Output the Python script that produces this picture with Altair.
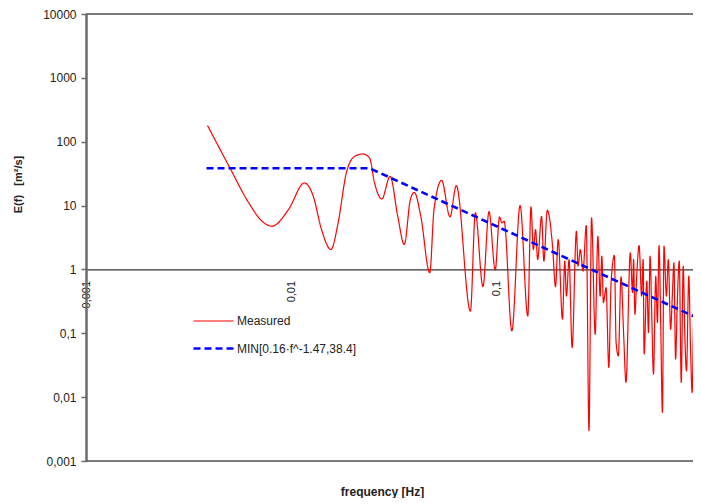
import altair as alt
import pandas as pd

series_names = ["Measured", "MIN[0.16·f^-1.47,38.4]"]

meas_f = [0.00390, 0.00497, 0.00620, 0.00719, 0.00804, 0.00967, 0.01156, 0.01277, 0.0140, 0.01556,
          0.01687, 0.01849, 0.0203, 0.02228, 0.0240, 0.02537, 0.02753, 0.0302, 0.0329, 0.0354,
          0.0379, 0.0396, 0.0426, 0.0471, 0.0494, 0.0538, 0.0591, 0.0634, 0.0743, 0.0785,
          0.0855, 0.0915, 0.0981, 0.1030, 0.1057, 0.1084, 0.1182, 0.1296, 0.1413, 0.1465,
          0.1504, 0.1542, 0.1578, 0.1649, 0.1692, 0.1758, 0.1865, 0.1928, 0.1987, 0.2084,
          0.2138, 0.2179, 0.2245, 0.2322, 0.2436, 0.2482, 0.2546, 0.2624, 0.2722, 0.2805,
          0.2887, 0.3007, 0.3099, 0.3179, 0.3240, 0.3298, 0.3398, 0.3503, 0.3594, 0.3728,
          0.3802, 0.3899, 0.4018, 0.4140, 0.4246, 0.4457, 0.4571, 0.4624, 0.4693, 0.4798,
          0.4921, 0.5058, 0.5148, 0.5205, 0.5363, 0.5465, 0.5563, 0.5669, 0.5778, 0.5929,
          0.6040, 0.6152, 0.6266, 0.6388, 0.6503, 0.6680, 0.6825, 0.7004, 0.7138, 0.7267,
          0.7405, 0.7546, 0.7716, 0.7888, 0.8067, 0.8212, 0.8369, 0.8585, 0.8750, 0.8915,
          0.9077, 0.9249]
meas_E = [180, 41.1, 11.0, 5.69, 4.75, 8.66, 22.6, 13.97, 4.22, 2.05,
          5.37, 32.4, 58.9, 64.3, 55.6, 22.6, 12.7, 28.7, 6.81, 2.46,
          12.4, 16.1, 6.81, 0.887, 8.66, 24.8, 6.65, 20.5, 0.223, 7.69,
          0.537, 8.06, 0.982, 6.65, 5.37, 5.69, 0.1086, 10.0, 0.186, 9.55,
          2.05, 4.22, 1.43, 6.81, 1.35, 8.45, 2.31, 0.537, 2.94, 0.166,
          1.35, 0.383, 1.43, 0.0598, 3.96, 1.13, 2.05, 0.94, 4.87, 0.00297,
          6.43, 0.0964, 3.31, 0.383, 1.61, 0.302, 0.518, 0.0291, 0.62, 1.66,
          0.0716, 0.0442, 0.764, 0.0908, 0.017, 1.82, 0.433, 1.43, 0.198, 0.887,
          2.37, 0.383, 1.43, 0.047, 0.656, 0.1026, 1.61, 0.198, 0.0229, 0.785,
          0.147, 2.37, 0.147, 0.00577, 2.31, 0.383, 1.43, 0.1155, 0.383, 1.27,
          0.0393, 0.302, 1.35, 0.017, 1.13, 0.0908, 0.0258, 0.785, 0.0634, 0.0118,
          0.166, 0.00453]

guide_f = [0.00386, 0.0240, 0.935]
guide_E = [38.4, 38.4, 0.177]

x_ticks = [0.001, 0.01, 0.1]
y_ticks = [0.001, 0.01, 0.1, 1, 10, 100, 1000, 10000]
y_domain = [0.001, 10000]

df_m = pd.DataFrame({"f": meas_f, "E": meas_E, "s": series_names[0]})
df_g = pd.DataFrame({"f": guide_f, "E": guide_E, "s": series_names[1]})

FONT = "Liberation Sans"
label_expr = "replace(toString(datum.value), '.', ',')"

x = alt.X(
    "f:Q",
    scale=alt.Scale(type="log", domain=[0.001, 0.9], nice=False),
    axis=alt.Axis(
        orient="bottom", offset=-191.6, values=x_ticks, labelExpr=label_expr,
        domainColor="#000000", domainWidth=1, ticks=False, grid=False,
        labelAngle=270, labelAlign="right", labelBaseline="middle", labelPadding=11,
        labelFont=FONT, labelFontSize=11, labelColor="#222222",
        labelFlush=False, labelOverlap=False,
        title="frequency [Hz]", titleFont=FONT, titleFontSize=12, titleFontWeight="bold",
        titleColor="#222222", titleX=296, titleY=222.5, titleBaseline="middle", titleAlign="center",
        titleAnchor="start",
    ),
)
y = alt.Y(
    "E:Q",
    scale=alt.Scale(type="log", domain=y_domain, nice=False),
    axis=alt.Axis(
        values=y_ticks, labelExpr=label_expr, grid=False,
        domainColor="#6b6b6b", domainWidth=2.5, tickColor="#6b6b6b", tickSize=5, tickWidth=1.5,
        labelPadding=5, labelFont=FONT, labelFontSize=12, labelColor="#222222",
        labelFlush=False, labelOverlap=False,
        title="E(f)\u00a0\u00a0\u00a0[m²/s]", titleFont=FONT, titleFontSize=11,
        titleFontWeight="bold", titleColor="#222222", titleAngle=270,
        titleX=-68, titleY=170, titleBaseline="middle", titleAlign="center", titleAnchor="start",
    ),
)

leg = alt.Legend(
    orient="none", legendX=106, legendY=286, title=None, symbolType="stroke",
    symbolSize=1600, labelFont=FONT, labelFontSize=12, labelColor="#222222",
    labelOffset=2, rowPadding=-21, padding=0,
)

color = alt.Color("s:N", scale=alt.Scale(domain=series_names, range=["#ff0000", "#0000ff"]), legend=leg)
dash = alt.StrokeDash("s:N", scale=alt.Scale(domain=series_names, range=[[1, 0], [7, 4]]), legend=leg)
sw = alt.StrokeWidth("s:N", scale=alt.Scale(domain=series_names, range=[1.2, 2.6]), legend=leg)

frame_top = alt.Chart().mark_rule(color="#555555", strokeWidth=1.5).encode(y=alt.datum(y_domain[1]))
frame_bottom = alt.Chart().mark_rule(color="#555555", strokeWidth=1.5).encode(y=alt.datum(y_domain[0]))

measured = alt.Chart(df_m).mark_line(interpolate="monotone", clip=True).encode(
    x=x, y=y, color=color, strokeDash=dash, strokeWidth=sw,
)
guide = alt.Chart(df_g).mark_line(interpolate="linear", clip=True).encode(
    x=x, y=y, color=color, strokeDash=dash, strokeWidth=sw,
)

chart = alt.layer(measured, guide, frame_top, frame_bottom).properties(
    width=607, height=447,
    autosize=alt.AutoSizeParams(type="none"),
    padding={"left": 78, "top": 6, "right": 0, "bottom": 37},
).configure_view(
    stroke=None,
).configure(background="white")

chart.save("out.html", embed_options={"renderer": "svg", "actions": False})
